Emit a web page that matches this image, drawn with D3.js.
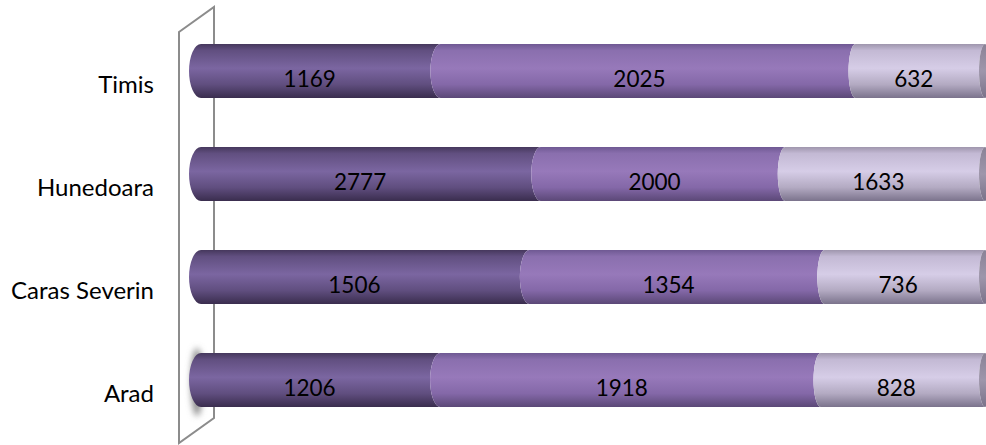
<!DOCTYPE html>
<html>
<head>
<meta charset="utf-8">
<script src="https://cdn.jsdelivr.net/npm/d3@7"></script>
<style>
  body { margin: 0; background: #fff; }
  svg { display: block; }
  text { font-family: Lato, "Open Sans", sans-serif; fill: #000; }
</style>
</head>
<body>
<svg width="986" height="445"></svg>
<script>
const categories = ["Timis", "Hunedoara", "Caras Severin", "Arad"];
const seriesKeys = ["s1", "s2", "s3"];
const s1 = [1169, 2777, 1506, 1206];
const s2 = [2025, 2000, 1354, 1918];
const s3 = [632, 1633, 736, 828];

const rows = categories.map((c, i) => ({ cat: c, s1: s1[i], s2: s2[i], s3: s3[i] }));

var svg = d3.select("svg"),
    width = +svg.attr("width"),
    height = +svg.attr("height");

var stack = d3.stack().keys(seriesKeys).offset(d3.stackOffsetExpand);
var layers = stack(rows);

var x = d3.scaleLinear().domain([0, 1]).range([201, 985]);
var y = d3.scaleBand()
    .domain(categories)
    .range([19.5, 431.5])
    .paddingInner(0.476)
    .paddingOuter(0.238);

// ellipse width of the end faces shrinks to the right (perspective)
var rx = d3.scaleLinear().domain([201, 985]).range([12, 6]);

var defs = svg.append("defs");
const grads = {
    s1: [["0", "#46385d"], ["0.12", "#614f80"], ["0.45", "#7b66a1"], ["0.75", "#604e7f"], ["1", "#3a2d4e"]],
    s2: [["0", "#6f5993"], ["0.12", "#8a6fae"], ["0.45", "#9779ba"], ["0.75", "#8468a8"], ["1", "#5b4877"]],
    s3: [["0", "#9f96ad"], ["0.12", "#c3b9d4"], ["0.45", "#d6cde7"], ["0.75", "#b3aac2"], ["1", "#7b738c"]],
    cap: [["0", "#8a8296"], ["0.5", "#9e96ab"], ["1", "#7a7289"]]
};
Object.keys(grads).forEach(k => {
    var g = defs.append("linearGradient").attr("id", "g-" + k)
        .attr("x1", 0).attr("y1", 0).attr("x2", 0).attr("y2", 1);
    grads[k].forEach(s => g.append("stop").attr("offset", s[0]).attr("stop-color", s[1]));
});
defs.append("filter").attr("id", "blur")
    .attr("x", "-100%").attr("y", "-50%").attr("width", "300%").attr("height", "200%")
    .append("feGaussianBlur").attr("stdDeviation", 3);

// side wall
svg.append("polygon")
    .attr("points", [[179, 32], [214, 7], [214, 418], [179, 443]].join(" "))
    .attr("fill", "#fff")
    .attr("stroke", "#8c8c8c")
    .attr("stroke-width", 2);

// shadow on the wall near the lowest bar
svg.append("ellipse")
    .attr("cx", 197).attr("cy", y("Arad") + y.bandwidth() / 2 + 2)
    .attr("rx", 6).attr("ry", 34)
    .attr("fill", "#8a8a8a")
    .attr("filter", "url(#blur)");

function segPath(x0, x1, y0, y1) {
    var ry = (y1 - y0) / 2, r0 = rx(x0), r1 = rx(x1);
    return "M" + x0 + "," + y0 +
        "A" + r0 + "," + ry + " 0 0 0 " + x0 + "," + y1 +
        "L" + x1 + "," + y1 +
        "A" + r1 + "," + ry + " 0 0 1 " + x1 + "," + y0 + "Z";
}

var bars = svg.append("g");
layers.forEach(layer => {
    bars.append("g").selectAll("path")
        .data(layer)
        .join("path")
        .attr("d", d => segPath(x(d[0]), x(d[1]), y(d.data.cat), y(d.data.cat) + y.bandwidth()))
        .attr("fill", "url(#g-" + layer.key + ")");
});

// right end caps
bars.append("g").selectAll("ellipse")
    .data(rows)
    .join("ellipse")
    .attr("cx", x(1))
    .attr("cy", d => y(d.cat) + y.bandwidth() / 2)
    .attr("rx", rx(x(1)))
    .attr("ry", y.bandwidth() / 2)
    .attr("fill", "url(#g-cap)");

// value labels
layers.forEach(layer => {
    svg.append("g").selectAll("text")
        .data(layer)
        .join("text")
        .attr("x", d => {
            var a = x(d[0]), b = x(d[1]);
            return ((a - rx(a)) + (b - rx(b))) / 2;
        })
        .attr("y", d => y(d.data.cat) + y.bandwidth() / 2 + 16)
        .attr("text-anchor", "middle")
        .attr("font-size", 22.5)
        .text(d => d.data[layer.key]);
});

// category labels
svg.append("g").selectAll("text")
    .data(categories)
    .join("text")
    .attr("x", 154)
    .attr("y", d => y(d) + y.bandwidth() / 2 + 22)
    .attr("text-anchor", "end")
    .attr("font-size", 24)
    .text(d => d);
</script>
</body>
</html>
